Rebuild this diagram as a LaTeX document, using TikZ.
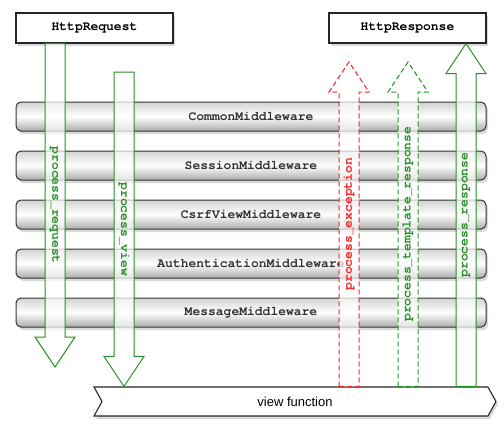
\documentclass[tikz,border=0pt]{standalone}
\usepackage{fontspec}
\setmonofont{TeX Gyre Cursor}
\setsansfont{Liberation Sans}
\usetikzlibrary{calc,shadows,shapes.symbols}

\definecolor{hookgreen}{RGB}{40,145,40}
\definecolor{hookred}{RGB}{255,35,35}

\tikzset{
  mono/.style={font=\ttfamily\bfseries\fontsize{13}{15}\selectfont},
  endbox/.style={mono, draw=black!85, line width=1.1pt, fill=white,
    minimum width=157pt, minimum height=30pt,
    drop shadow={shadow xshift=2pt, shadow yshift=-3pt, opacity=0.3}},
  layer/.style={mono, draw=black!80, line width=1pt, rounded corners=5pt,
    top color=gray!35, bottom color=gray!65, middle color=white,
    minimum width=470pt, minimum height=29pt, text=black!80,
    drop shadow={shadow xshift=2pt, shadow yshift=-3pt, opacity=0.3}},
  viewbox/.style={signal, signal from=west, signal to=east, signal pointer angle=122,
    draw=black!85, line width=1.1pt, fill=white, minimum width=402pt, minimum height=29pt,
    font=\sffamily\fontsize{13}{15}\selectfont,
    drop shadow={shadow xshift=2pt, shadow yshift=-3pt, opacity=0.3}},
}

% block arrow: colour, line pattern, start, tip, label, rotation
\newcommand\blockarrow[6]{%
  \coordinate (sa) at (#3);
  \coordinate (ta) at (#4);
  \coordinate (hb) at ($(ta)!30pt!(sa)$);
  \draw[#1, #2, line width=1pt, fill=white, fill opacity=0.7]
    ($(sa)!10pt!90:(ta)$) -- ($(hb)!10pt!90:(ta)$) -- ($(hb)!20pt!90:(ta)$) -- (ta)
    -- ($(hb)!20pt!-90:(ta)$) -- ($(hb)!10pt!-90:(ta)$) -- ($(sa)!10pt!-90:(ta)$) -- cycle;
  \path (sa) -- (ta) node[midway, mono, text=#1, rotate=#6] {#5};
}

\begin{document}
\begin{tikzpicture}[x=1pt,y=-1pt]
	\useasboundingbox (0,0) rectangle (504,429);
	\node[endbox] (req) at (94.5,28) {HttpRequest};
	\node[endbox] (resp) at (407.5,28) {HttpResponse};
	\foreach \mw [count=\i] in {Common,Session,CsrfView,Authentication,Message}
		\node[layer] (mw\i) at (251,{116.5+49*(\i-1)}) {\mw Middleware};
	\node[viewbox] (vf) at (295,401.5) {view function};
	\coordinate (reqend) at (55,367);
	\coordinate (viewtop) at (124,72);
	\coordinate (excend) at (349,62);
	\coordinate (tplend) at (408,62);
	\coordinate (respx) at (466,200);
	\blockarrow{hookgreen}{solid}{req.south -| reqend}{reqend}{process\_request}{-90}
	\blockarrow{hookgreen}{solid}{viewtop}{vf.north -| viewtop}{process\_view}{-90}
	\blockarrow{hookred}{dash pattern=on 5pt off 3pt}{vf.north -| excend}{excend}{process\_exception}{90}
	\blockarrow{hookgreen}{dash pattern=on 5pt off 3pt}{vf.north -| tplend}{tplend}{process\_template\_response}{90}
	\blockarrow{hookgreen}{solid}{vf.north -| respx}{resp.south -| respx}{process\_response}{90}
\end{tikzpicture}
\end{document}
